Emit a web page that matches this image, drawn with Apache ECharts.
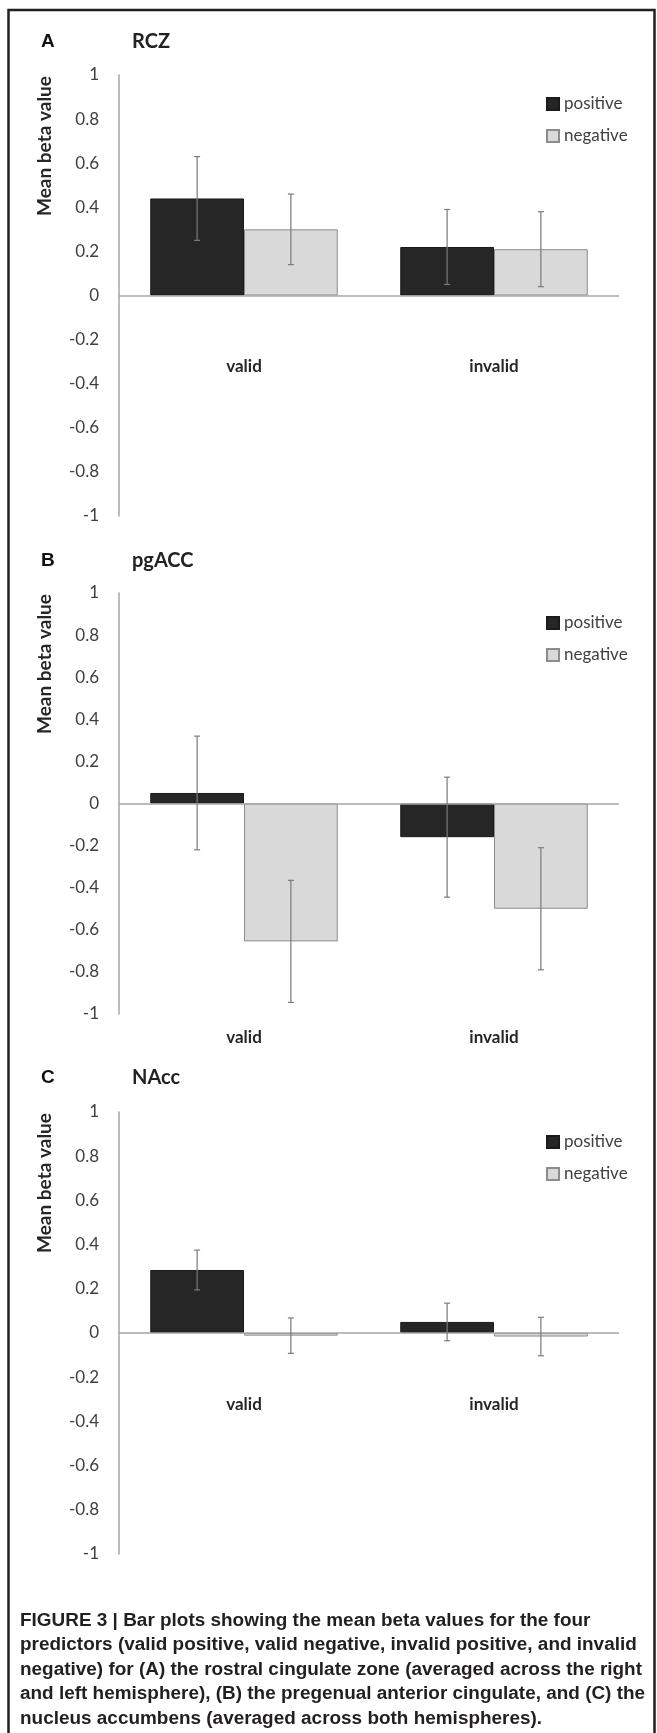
<!DOCTYPE html>
<html>
<head>
<meta charset="utf-8">
<script src="https://cdn.jsdelivr.net/npm/echarts@6/dist/echarts.min.js"></script>
<style>
html,body{margin:0;padding:0;background:#fff;}
#chart{width:657px;height:1733px;}
</style>
</head>
<body>
<div id="chart"></div>
<script>
// ---- data ----
const categories = ['valid', 'invalid'];
const seriesNames = ['positive', 'negative'];
const panelLetters = ['A', 'B', 'C'];
const panelTitles = ['RCZ', 'pgACC', 'NAcc'];
const yAxisTitle = 'Mean beta value';
const yMin = -1, yMax = 1, yInterval = 0.2;

const rczPositive = [0.44, 0.22];
const rczNegative = [0.30, 0.21];
const rczPositiveErr = [0.19, 0.17];
const rczNegativeErr = [0.16, 0.17];

const pgaccPositive = [0.05, -0.16];
const pgaccNegative = [-0.655, -0.50];
const pgaccPositiveErr = [0.27, 0.285];
const pgaccNegativeErr = [0.29, 0.29];

const naccPositive = [0.285, 0.05];
const naccNegative = [-0.012, -0.016];
const naccPositiveErr = [0.09, 0.085];
const naccNegativeErr = [0.08, 0.087];

const captionLines = [
  'FIGURE 3 | Bar plots showing the mean beta values for the four',
  'predictors (valid positive, valid negative, invalid positive, and invalid',
  'negative) for (A) the rostral cingulate zone (averaged across the right',
  'and left hemisphere), (B) the pregenual anterior cingulate, and (C) the',
  'nucleus accumbens (averaged across both hemispheres).'
];

// ---- layout ----
const panels = [
  {pos: rczPositive, neg: rczNegative, posErr: rczPositiveErr, negErr: rczNegativeErr,
   top: 75, height: 441, labelMargin: -158, letterY: 42, legendTop: 89},
  {pos: pgaccPositive, neg: pgaccNegative, posErr: pgaccPositiveErr, negErr: pgaccNegativeErr,
   top: 593, height: 421, labelMargin: 15, letterY: 561, legendTop: 608},
  {pos: naccPositive, neg: naccNegative, posErr: naccPositiveErr, negErr: naccNegativeErr,
   top: 1112, height: 442, labelMargin: -158, letterY: 1078, legendTop: 1127}
];

const FONT = 'Lato, "Open Sans", sans-serif';
const CAPTION_FONT = '"Liberation Sans", Arial, sans-serif';
const AXIS_COLOR = '#a6a6a6';
const POS_COLOR = '#262626';
const NEG_COLOR = '#d9d9d9';

function errRender(sign) {
  return function (params, api) {
    const i = api.value(0);
    const lo = api.coord([i, api.value(1)]);
    const hi = api.coord([i, api.value(2)]);
    const band = api.size([1, 0])[0];
    const x = lo[0] + sign * band * 0.1875;
    const cap = 3;
    const st = {stroke: '#7a7a7a', lineWidth: 1.2};
    return {
      type: 'group',
      children: [
        {type: 'line', shape: {x1: x, y1: lo[1], x2: x, y2: hi[1]}, style: st},
        {type: 'line', shape: {x1: x - cap, y1: lo[1], x2: x + cap, y2: lo[1]}, style: st},
        {type: 'line', shape: {x1: x - cap, y1: hi[1], x2: x + cap, y2: hi[1]}, style: st}
      ]
    };
  };
}

const grid = [], xAxis = [], yAxis = [], series = [], legend = [], graphic = [];

panels.forEach((p, k) => {
  grid.push({left: 119, width: 500, top: p.top, height: p.height});
  xAxis.push({
    type: 'category', gridIndex: k, data: categories,
    axisLine: {show: false, onZero: false},
    axisTick: {show: false},
    axisLabel: {margin: p.labelMargin, fontFamily: FONT, fontWeight: 'bold',
      fontSize: 17, color: '#262626'}
  });
  yAxis.push({
    type: 'value', gridIndex: k, min: yMin, max: yMax, interval: yInterval,
    axisLine: {show: true, lineStyle: {color: AXIS_COLOR, width: 1.5}},
    axisTick: {show: false}, splitLine: {show: false},
    axisLabel: {margin: 20, fontFamily: FONT, fontSize: 17, color: '#404040'}
  });
  series.push({
    name: seriesNames[0], type: 'bar', xAxisIndex: k, yAxisIndex: k, data: p.pos,
    barGap: '0%', barCategoryGap: '25%',
    itemStyle: {color: POS_COLOR, borderColor: '#1a1a1a', borderWidth: 1},
    emphasis: {disabled: true},
    markLine: {
      silent: true, symbol: ['none', 'none'], label: {show: false},
      lineStyle: {color: AXIS_COLOR, width: 1.5, type: 'solid'},
      data: [{yAxis: 0}], animation: false
    }
  });
  series.push({
    name: seriesNames[1], type: 'bar', xAxisIndex: k, yAxisIndex: k, data: p.neg,
    barGap: '0%', barCategoryGap: '25%',
    itemStyle: {color: NEG_COLOR, borderColor: '#8c8c8c', borderWidth: 1},
    emphasis: {disabled: true}
  });
  series.push({
    type: 'custom', xAxisIndex: k, yAxisIndex: k, z: 5, silent: true,
    renderItem: errRender(-1), encode: {x: 0, y: [1, 2]},
    data: p.pos.map((m, i) => [i, m - p.posErr[i], m + p.posErr[i]])
  });
  series.push({
    type: 'custom', xAxisIndex: k, yAxisIndex: k, z: 5, silent: true,
    renderItem: errRender(1), encode: {x: 0, y: [1, 2]},
    data: p.neg.map((m, i) => [i, m - p.negErr[i], m + p.negErr[i]])
  });
  legend.push({
    data: seriesNames, left: 541, top: p.legendTop, orient: 'vertical',
    icon: 'rect', itemWidth: 12, itemHeight: 12, itemGap: 12, selectedMode: false,
    textStyle: {fontFamily: FONT, fontSize: 17, color: '#404040', lineHeight: 20}
  });
  graphic.push({
    type: 'text', x: 41, y: p.letterY,
    style: {text: panelLetters[k], fontFamily: CAPTION_FONT,
      fontWeight: 'bold', fontSize: 19, fill: '#111', textVerticalAlign: 'middle'}
  });
  graphic.push({
    type: 'text', x: 132, y: p.letterY,
    style: {text: panelTitles[k], fontFamily: FONT, fontWeight: 'bold', fontSize: 20,
      fill: '#222', textVerticalAlign: 'middle'}
  });
  graphic.push({
    type: 'text', x: 45, y: p.top + 71, rotation: Math.PI / 2,
    style: {text: yAxisTitle, fontFamily: FONT, fontWeight: 'bold', fontSize: 19,
      fill: '#262626', textAlign: 'center', textVerticalAlign: 'middle'}
  });
});

// frame
graphic.push({
  type: 'rect', shape: {x: 8.5, y: 10, width: 646, height: 1760},
  style: {fill: 'none', stroke: '#231f20', lineWidth: 2.5}, z: 10
});

// caption: condensed look by horizontal scaling to the reference line width
const capFontSize = 18;
const ctx = document.createElement('canvas').getContext('2d');
ctx.font = 'bold ' + capFontSize + 'px ' + CAPTION_FONT;
const refLineWidth = 622; // width of the third caption line in the reference
const capScale = refLineWidth / ctx.measureText(captionLines[2]).width;
captionLines.forEach((t, i) => {
  graphic.push({
    type: 'text', x: 20, y: 1621 + i * 24.5, scaleX: capScale,
    style: {text: t, fontFamily: CAPTION_FONT,
      fontWeight: 'bold', fontSize: capFontSize, fill: '#231f20', textVerticalAlign: 'middle'}
  });
});

const chart = echarts.init(document.getElementById('chart'), null, {renderer: 'canvas'});
chart.setOption({
  animation: false,
  backgroundColor: '#ffffff',
  grid, xAxis, yAxis, series, legend, graphic
});
</script>
</body>
</html>
